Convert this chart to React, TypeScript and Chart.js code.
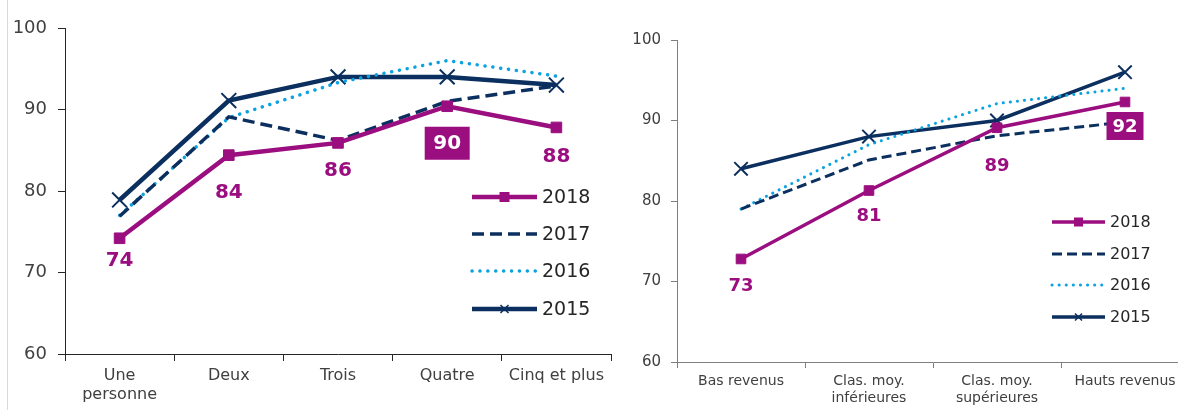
import React, { useEffect, useRef } from "react";
import { Chart, registerables } from "chart.js";

Chart.register(...registerables);

// ---------- Data ----------
const seriesLabels = ["2018", "2017", "2016", "2015"];

const householdCategories: (string | string[])[] = [["Une", "personne"], "Deux", "Trois", "Quatre", "Cinq et plus"];
const household2018 = [74.2, 84.4, 85.9, 90.4, 87.8];
const household2017 = [76.9, 89.1, 86.2, 91.0, 92.9];
const household2016 = [77.0, 89.0, 93.3, 96.0, 94.1];
const household2015 = [78.9, 91.1, 94.0, 94.0, 93.0];

const incomeCategories: (string | string[])[] = ["Bas revenus", ["Clas. moy.", "inférieures"], ["Clas. moy.", "supérieures"], "Hauts revenus"];
const income2018 = [72.8, 81.3, 89.1, 92.3];
const income2017 = [79.0, 85.1, 88.1, 89.8];
const income2016 = [79.0, 87.0, 92.1, 94.0];
const income2015 = [84.0, 88.0, 90.0, 96.0];

const yTicks = [60, 70, 80, 90, 100];

// label placement (2018 series labels)
const householdLabelOffsets = [22, 37, 27, 37, 28];
const householdLabelBoxed = [false, false, false, true, false];
const incomeLabelOffsets = [26, 25, 38, 24];
const incomeLabelBoxed = [false, false, false, true];

// ---------- Styles ----------
const FONT = '"DejaVu Sans", Verdana, sans-serif';
const MAGENTA = "#9B0E7F";
const NAVY = "#0B2F5E";
const BLUE = "#0AA2E0";
const TICK_COLOR = "#404040";

Chart.defaults.font.family = FONT;

function makeDatasets(d18: number[], d17: number[], d16: number[], d15: number[], big: boolean) {
  return [
    {
      label: seriesLabels[0],
      data: d18,
      borderColor: MAGENTA,
      backgroundColor: MAGENTA,
      borderWidth: big ? 4.5 : 3.5,
      pointStyle: "rect",
      pointRadius: big ? 7.5 : 6.8,
      pointBorderWidth: 1,
      pointBackgroundColor: MAGENTA,
      pointBorderColor: MAGENTA,
      tension: 0,
    },
    {
      label: seriesLabels[1],
      data: d17,
      borderColor: NAVY,
      backgroundColor: NAVY,
      borderWidth: big ? 3.5 : 3,
      borderDash: big ? [12, 6] : [10, 5],
      pointRadius: 0,
      tension: 0,
    },
    {
      label: seriesLabels[2],
      data: d16,
      borderColor: BLUE,
      backgroundColor: BLUE,
      borderWidth: big ? 3.5 : 3,
      borderDash: big ? [0.1, 7.8] : [0.1, 7],
      borderCapStyle: "round",
      pointRadius: 0,
      tension: 0,
    },
    {
      label: seriesLabels[3],
      data: d15,
      borderColor: NAVY,
      backgroundColor: NAVY,
      borderWidth: big ? 4.5 : 3.5,
      pointStyle: "crossRot",
      pointRadius: big ? 10.5 : 9.5,
      pointBorderWidth: 2,
      pointBorderColor: NAVY,
      tension: 0,
    },
  ];
}

// ---------- Plugins ----------
const customLegend = {
  id: "customLegend",
  afterDraw(chart: any, _a: any, opts: any) {
    const ctx = chart.ctx;
    ctx.save();
    chart.data.datasets.forEach((ds: any, i: number) => {
      const y = opts.ys[i];
      ctx.beginPath();
      ctx.setLineDash(ds.borderDash || []);
      ctx.lineCap = ds.borderCapStyle || "butt";
      ctx.strokeStyle = ds.borderColor;
      ctx.lineWidth = ds.borderWidth;
      ctx.moveTo(opts.x1, y);
      ctx.lineTo(opts.x2, y);
      ctx.stroke();
      ctx.setLineDash([]);
      ctx.lineCap = "butt";
      const mx = (opts.x1 + opts.x2) / 2;
      if (ds.pointStyle === "rect" && ds.pointRadius > 0) {
        ctx.fillStyle = ds.borderColor;
        ctx.fillRect(mx - opts.sq / 2, y - opts.sq / 2, opts.sq, opts.sq);
      } else if (ds.pointStyle === "crossRot" && ds.pointRadius > 0) {
        ctx.strokeStyle = ds.borderColor;
        ctx.lineWidth = 1.5;
        const r = opts.xr;
        ctx.beginPath();
        ctx.moveTo(mx - r, y - r);
        ctx.lineTo(mx + r, y + r);
        ctx.moveTo(mx - r, y + r);
        ctx.lineTo(mx + r, y - r);
        ctx.stroke();
      }
      ctx.fillStyle = opts.color;
      ctx.font = `${opts.fontSize}px ${FONT}`;
      ctx.textAlign = "left";
      ctx.textBaseline = "middle";
      ctx.fillText(ds.label, opts.textX, y + 1);
    });
    ctx.restore();
  },
};

const valueLabels = {
  id: "valueLabels",
  afterDatasetsDraw(chart: any, _a: any, opts: any) {
    const ctx = chart.ctx;
    const meta = chart.getDatasetMeta(0);
    const ds = chart.data.datasets[0];
    ctx.save();
    ctx.font = `bold ${opts.fontSize}px ${FONT}`;
    ctx.textAlign = "center";
    ctx.textBaseline = "middle";
    meta.data.forEach((pt: any, i: number) => {
      const txt = String(Math.round(ds.data[i]));
      const x = pt.x;
      const y = pt.y + opts.offsets[i];
      if (opts.boxed[i]) {
        ctx.fillStyle = MAGENTA;
        ctx.fillRect(x - opts.boxW / 2, y - opts.boxH / 2, opts.boxW, opts.boxH);
        ctx.fillStyle = "#ffffff";
      } else {
        ctx.fillStyle = MAGENTA;
      }
      ctx.fillText(txt, x, y + 1);
    });
    ctx.restore();
  },
};

const frameLine = {
  id: "frameLine",
  beforeDraw(chart: any, _a: any, opts: any) {
    if (!opts || !opts.show) return;
    const ctx = chart.ctx;
    ctx.save();
    ctx.strokeStyle = "#d9d9d9";
    ctx.lineWidth = 1;
    ctx.beginPath();
    ctx.moveTo(opts.x + 0.5, 0);
    ctx.lineTo(opts.x + 0.5, chart.height);
    ctx.stroke();
    ctx.restore();
  },
};

function makeOptions(p: {
  padTop: number; padRight: number; yWidth: number; xHeight: number;
  yFont: number; xFont: number; tickLen: number; yPad: number; xPad: number; axisColor: string;
  legend: any; labels: any; frame: any;
}) {
  return {
    animation: false,
    responsive: false,
    layout: { autoPadding: false, padding: { left: 0, top: p.padTop, right: p.padRight, bottom: 0 } },
    plugins: {
      legend: { display: false },
      tooltip: { enabled: false },
      customLegend: p.legend,
      valueLabels: p.labels,
      frameLine: p.frame,
    },
    scales: {
      x: {
        type: "category",
        offset: true,
        grid: { offset: true, drawOnChartArea: false, drawTicks: true, tickLength: p.tickLen, color: p.axisColor, lineWidth: 1 },
        border: { display: true, color: p.axisColor, width: 1 },
        ticks: { font: { size: p.xFont }, color: TICK_COLOR, padding: p.xPad, maxRotation: 0, autoSkip: false },
        afterFit: (s: any) => {
          s.height = p.xHeight;
          s.paddingLeft = 0;
          s.paddingRight = 0;
        },
      },
      y: {
        min: yTicks[0],
        max: yTicks[yTicks.length - 1],
        afterBuildTicks: (s: any) => { s.ticks = yTicks.map((v) => ({ value: v })); },
        ticks: { font: { size: p.yFont }, color: TICK_COLOR, padding: p.yPad },
        grid: { drawOnChartArea: false, drawTicks: true, tickLength: p.tickLen, color: p.axisColor, lineWidth: 1 },
        border: { display: true, color: p.axisColor, width: 1 },
        afterFit: (s: any) => {
          s.width = p.yWidth;
          s.paddingTop = 0;
          s.paddingBottom = 0;
        },
      },
    },
  };
}

export default function App() {
  const leftRef = useRef<HTMLCanvasElement | null>(null);
  const rightRef = useRef<HTMLCanvasElement | null>(null);

  useEffect(() => {
    const left = new Chart(leftRef.current as HTMLCanvasElement, {
      type: "line",
      data: {
        labels: householdCategories,
        datasets: makeDatasets(household2018, household2017, household2016, household2015, true) as any,
      },
      options: makeOptions({
        padTop: 28, padRight: 9, yWidth: 65, xHeight: 56,
        yFont: 18, xFont: 16, tickLen: 7, yPad: 11, xPad: 5, axisColor: "#262626",
        legend: { x1: 472, x2: 537, textX: 542, ys: [197, 234, 271, 309], fontSize: 19, color: "#262626", sq: 10, xr: 4 },
        labels: { fontSize: 20, offsets: householdLabelOffsets, boxed: householdLabelBoxed, boxW: 45, boxH: 33 },
        frame: { show: true, x: 7 },
      }) as any,
      plugins: [customLegend, valueLabels, frameLine],
    });

    const right = new Chart(rightRef.current as HTMLCanvasElement, {
      type: "line",
      data: {
        labels: incomeCategories,
        datasets: makeDatasets(income2018, income2017, income2016, income2015, false) as any,
      },
      options: makeOptions({
        padTop: 40, padRight: 11, yWidth: 57, xHeight: 48,
        yFont: 15, xFont: 14, tickLen: 6, yPad: 10, xPad: 5, axisColor: "#7f7f7f",
        legend: { x1: 432, x2: 485, textX: 490, ys: [222, 254, 285, 317], fontSize: 16, color: "#262626", sq: 9, xr: 3.5 },
        labels: { fontSize: 18, offsets: incomeLabelOffsets, boxed: incomeLabelBoxed, boxW: 37, boxH: 28 },
        frame: { show: false, x: 0 },
      }) as any,
      plugins: [customLegend, valueLabels, frameLine],
    });

    return () => {
      left.destroy();
      right.destroy();
    };
  }, []);

  return (
    <div style={{ position: "absolute", left: 0, top: 0, width: 1178, height: 410, overflow: "hidden", background: "#fff" }}>
      <div style={{ position: "absolute", left: 0, top: 0, width: 620, height: 410 }}>
        <canvas ref={leftRef} width={620} height={410} style={{ display: "block" }} />
      </div>
      <div style={{ position: "absolute", left: 620, top: 0, width: 580, height: 410 }}>
        <canvas ref={rightRef} width={580} height={410} style={{ display: "block" }} />
      </div>
    </div>
  );
}
